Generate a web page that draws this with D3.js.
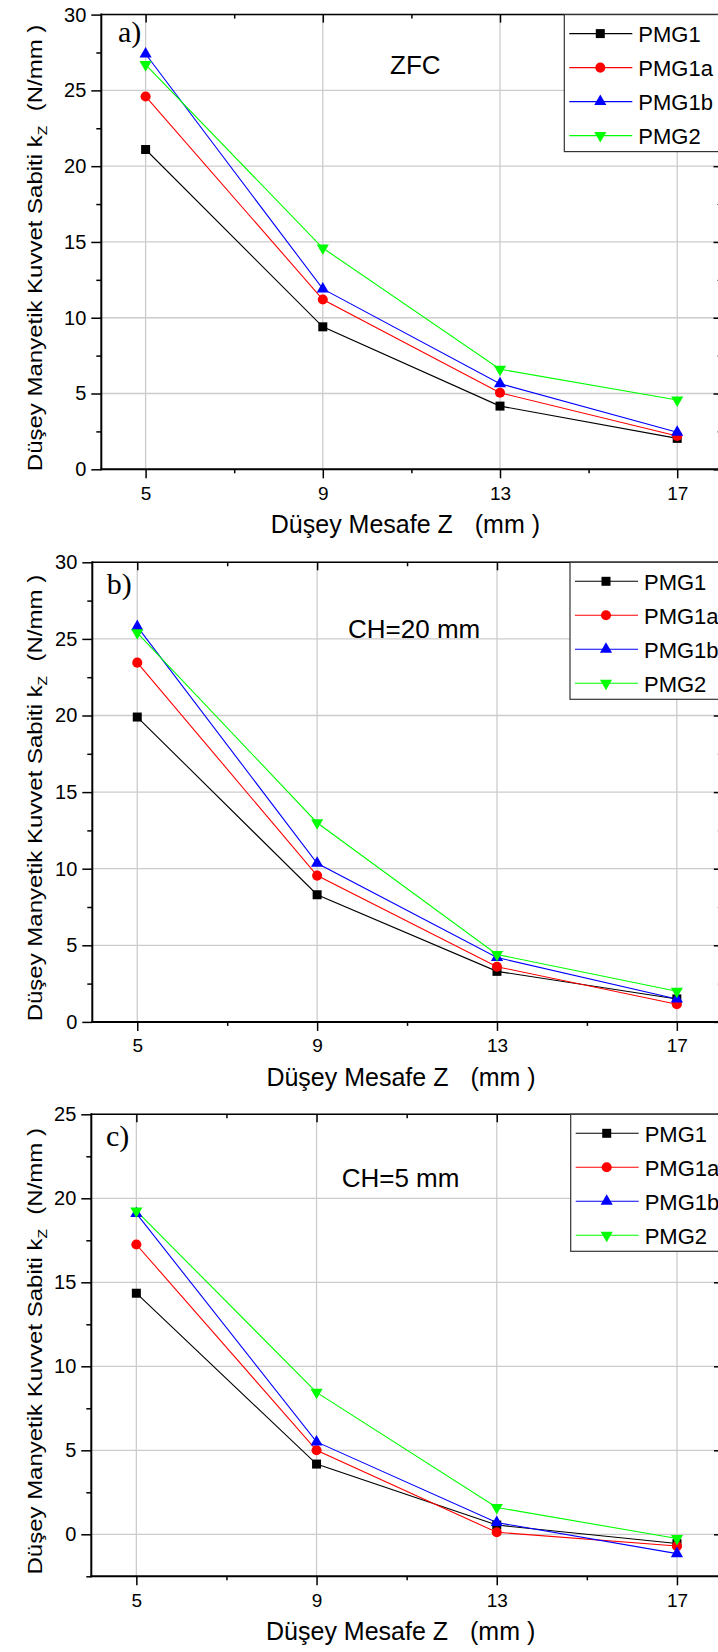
<!DOCTYPE html>
<html>
<head>
<meta charset="utf-8">
<script src="https://cdn.jsdelivr.net/npm/d3@7"></script>
<style>
  body { margin: 0; background: #ffffff; }
  svg { display: block; font-family: "Liberation Sans", Arial, sans-serif; }
</style>
</head>
<body>
<div id="chart"></div>
<script>
// Shared x values (mm) and series
var distances = [5, 9, 13, 17];
var xMajorTicks = [5, 9, 13, 17];
var xMinorTicks = [7, 11, 15];
var seriesNames = ["PMG1", "PMG1a", "PMG1b", "PMG2"];
var seriesColors = ["#000000", "#ff0000", "#0000ff", "#00ff00"];

// a) ZFC
var zfcPMG1  = [21.1, 9.4, 4.17, 2.04];
var zfcPMG1a = [24.6, 11.2, 5.05, 2.2];
var zfcPMG1b = [27.4, 11.9, 5.65, 2.45];
var zfcPMG2  = [26.7, 14.6, 6.6, 4.57];

// b) CH=20 mm
var ch20PMG1  = [19.9, 8.3, 3.3, 1.5];
var ch20PMG1a = [23.45, 9.55, 3.6, 1.15];
var ch20PMG1b = [25.8, 10.35, 4.2, 1.5];
var ch20PMG2  = [25.4, 13.0, 4.4, 2.0];

// c) CH=5 mm
var ch5PMG1  = [14.35, 4.18, 0.55, -0.55];
var ch5PMG1a = [17.25, 5.0, 0.12, -0.7];
var ch5PMG1b = [19.1, 5.5, 0.7, -1.15];
var ch5PMG2  = [19.25, 8.45, 1.6, -0.25];

// y tick labels
var yTicksAB = [0, 5, 10, 15, 20, 25, 30];
var yTicksC = [0, 5, 10, 15, 20, 25];

var panels = [
  {tag: "a)", note: "ZFC", series: [zfcPMG1, zfcPMG1a, zfcPMG1b, zfcPMG2],
   yDomain: [0, 30], yMajor: yTicksAB,
   left: 101.3, right: 721.5, top: 14.6, bottom: 469.3,
   tagX: 118, tagY: 41.7, noteX: 390, noteY: 74, legendLeft: 564.3},
  {tag: "b)", note: "CH=20 mm", series: [ch20PMG1, ch20PMG1a, ch20PMG1b, ch20PMG2],
   yDomain: [0, 30], yMajor: yTicksAB,
   left: 92.3, right: 721.8, top: 562.3, bottom: 1021.9,
   tagX: 106.7, tagY: 594, noteX: 348, noteY: 638.3, legendLeft: 570},
  {tag: "c)", note: "CH=5 mm", series: [ch5PMG1, ch5PMG1a, ch5PMG1b, ch5PMG2],
   yDomain: [-2.5, 25], yMajor: yTicksC,
   left: 91.3, right: 722, top: 1114.3, bottom: 1576.3,
   tagX: 106, tagY: 1146, noteX: 341.7, noteY: 1186.7, legendLeft: 570.7}
];

var svg = d3.select("#chart")
  .append("svg")
  .attr("width", 718)
  .attr("height", 1652);

// marker shapes per series
function markerPath(i) {
  if (i === 0) return d3.symbol().type(d3.symbolSquare).size(81)();
  if (i === 1) return d3.symbol().type(d3.symbolCircle).size(80)();
  return d3.symbol().type(d3.symbolTriangle).size(64)();
}
function markerTransform(i, px, py) {
  return "translate(" + px + "," + py + ")" + (i === 3 ? " rotate(180)" : "");
}

function minorValues(domain) {
  return d3.range(domain[0], domain[1] + 0.01, 2.5).filter(function (v) { return v % 5 !== 0; });
}

function drawPanel(p) {
  var x = d3.scaleLinear().domain([4, 18]).range([p.left, p.right]);
  var y = d3.scaleLinear().domain(p.yDomain).range([p.bottom, p.top]);
  var g = svg.append("g");

  // grid
  g.append("g").selectAll("line")
    .data(xMajorTicks)
    .join("line")
    .attr("x1", d => x(d)).attr("x2", d => x(d))
    .attr("y1", p.top).attr("y2", p.bottom)
    .attr("stroke", "#cccccc").attr("stroke-width", 1.3);
  g.append("g").selectAll("line")
    .data(p.yMajor)
    .join("line")
    .attr("x1", p.left).attr("x2", p.right)
    .attr("y1", d => y(d)).attr("y2", d => y(d))
    .attr("stroke", "#cccccc").attr("stroke-width", 1.3);

  // left axis
  g.append("g")
    .attr("transform", "translate(" + p.left + ",0)")
    .call(d3.axisLeft(y).tickValues(p.yMajor).tickSize(10).tickPadding(5).tickSizeOuter(0))
    .call(a => a.select(".domain").remove())
    .call(a => a.selectAll(".tick line").attr("stroke-width", 1.5))
    .call(a => a.selectAll(".tick text")
      .attr("font-size", 20).attr("font-family", "Liberation Sans, Arial, sans-serif").attr("fill", "#000"));
  g.append("g")
    .attr("transform", "translate(" + p.left + ",0)")
    .call(d3.axisLeft(y).tickValues(minorValues(p.yDomain)).tickSize(5).tickFormat(""))
    .call(a => a.select(".domain").remove())
    .call(a => a.selectAll(".tick line").attr("stroke-width", 1.5));

  // right axis (inward ticks)
  g.append("g")
    .attr("transform", "translate(" + p.right + ",0)")
    .call(d3.axisLeft(y).tickValues(p.yMajor).tickSize(8).tickFormat(""))
    .call(a => a.select(".domain").remove())
    .call(a => a.selectAll(".tick line").attr("stroke-width", 1.5));
  g.append("g")
    .attr("transform", "translate(" + p.right + ",0)")
    .call(d3.axisLeft(y).tickValues(minorValues(p.yDomain)).tickSize(4).tickFormat(""))
    .call(a => a.select(".domain").remove());

  // bottom axis
  g.append("g")
    .attr("transform", "translate(0," + p.bottom + ")")
    .call(d3.axisBottom(x).tickValues(xMajorTicks).tickSize(9).tickPadding(8))
    .call(a => a.select(".domain").remove())
    .call(a => a.selectAll(".tick line").attr("stroke-width", 1.5))
    .call(a => a.selectAll(".tick text")
      .attr("font-size", 19).attr("font-family", "Liberation Sans, Arial, sans-serif").attr("fill", "#000"));
  g.append("g")
    .attr("transform", "translate(0," + p.bottom + ")")
    .call(d3.axisBottom(x).tickValues(xMinorTicks).tickSize(4).tickFormat(""))
    .call(a => a.select(".domain").remove())
    .call(a => a.selectAll(".tick line").attr("stroke-width", 1.5));

  // top axis (inward ticks)
  g.append("g")
    .attr("transform", "translate(0," + p.top + ")")
    .call(d3.axisBottom(x).tickValues(xMajorTicks).tickSize(8).tickFormat(""))
    .call(a => a.select(".domain").remove())
    .call(a => a.selectAll(".tick line").attr("stroke-width", 1.5));
  g.append("g")
    .attr("transform", "translate(0," + p.top + ")")
    .call(d3.axisBottom(x).tickValues(xMinorTicks).tickSize(4).tickFormat(""))
    .call(a => a.select(".domain").remove())
    .call(a => a.selectAll(".tick line").attr("stroke-width", 1.5));

  // frame
  g.append("line").attr("x1", p.left).attr("x2", p.left).attr("y1", p.top - 1).attr("y2", p.bottom + 1)
    .attr("stroke", "#000").attr("stroke-width", 2);
  g.append("line").attr("x1", p.left - 1).attr("x2", p.right).attr("y1", p.bottom).attr("y2", p.bottom)
    .attr("stroke", "#000").attr("stroke-width", 2);
  g.append("line").attr("x1", p.left).attr("x2", p.right).attr("y1", p.top).attr("y2", p.top)
    .attr("stroke", "#000").attr("stroke-width", 1.5);
  g.append("line").attr("x1", p.right).attr("x2", p.right).attr("y1", p.top).attr("y2", p.bottom)
    .attr("stroke", "#000").attr("stroke-width", 2);

  // series lines
  var line = d3.line().x((d, i) => x(distances[i])).y(d => y(d));
  p.series.forEach(function (vals, si) {
    g.append("path")
      .datum(vals)
      .attr("d", line)
      .attr("fill", "none")
      .attr("stroke", seriesColors[si])
      .attr("stroke-width", 1.1);
  });
  p.series.forEach(function (vals, si) {
    g.append("g").selectAll("path")
      .data(vals)
      .join("path")
      .attr("d", markerPath(si))
      .attr("transform", (d, i) => markerTransform(si, x(distances[i]), y(d)))
      .attr("fill", seriesColors[si]);
  });

  // panel tag and note
  g.append("text")
    .attr("x", p.tagX).attr("y", p.tagY)
    .style("font-family", "'Liberation Serif', 'Times New Roman', serif")
    .style("font-size", "30px")
    .text(p.tag);
  g.append("text")
    .attr("x", p.noteX).attr("y", p.noteY)
    .style("font-size", "26px")
    .text(p.note);

  // legend
  var legend = g.append("g");
  legend.append("rect")
    .attr("x", p.legendLeft).attr("y", p.top)
    .attr("width", 200).attr("height", 137)
    .attr("fill", "#ffffff")
    .attr("stroke", "#333333").attr("stroke-width", 1.2);
  var rows = legend.selectAll("g.row")
    .data(seriesNames)
    .join("g")
    .attr("class", "row")
    .attr("transform", (d, i) => "translate(" + p.legendLeft + "," + (p.top + 19 + i * 34) + ")");
  rows.append("line")
    .attr("x1", 5).attr("x2", 68)
    .attr("stroke", (d, i) => seriesColors[i]).attr("stroke-width", 1.1);
  rows.append("path")
    .attr("d", (d, i) => markerPath(i))
    .attr("transform", (d, i) => markerTransform(i, 36, 0))
    .attr("fill", (d, i) => seriesColors[i]);
  rows.append("text")
    .attr("x", 74).attr("y", 8.5)
    .style("font-size", "22px")
    .text(d => d);

  // x axis title
  var cx = (p.left + p.right) / 2 - 6;
  var xt = g.append("text")
    .attr("x", cx).attr("y", p.bottom + 64)
    .attr("text-anchor", "middle")
    .style("font-size", "25px");
  xt.append("tspan").text("Düşey Mesafe Z");
  xt.append("tspan").attr("dx", 22).text("(mm )");

  // y axis title
  var cy = (p.top + p.bottom) / 2 + 6;
  var yt = g.append("text")
    .attr("transform", "translate(42," + cy + ") rotate(-90) scale(1.2,1)")
    .attr("text-anchor", "middle")
    .style("font-size", "20px");
  yt.append("tspan").text("Düşey Manyetik Kuvvet Sabiti k");
  yt.append("tspan").attr("dy", 5).style("font-size", "13px").text("Z");
  yt.append("tspan").attr("dy", -5).attr("dx", 12).text("(N/mm )");
}

panels.forEach(drawPanel);
</script>
</body>
</html>
